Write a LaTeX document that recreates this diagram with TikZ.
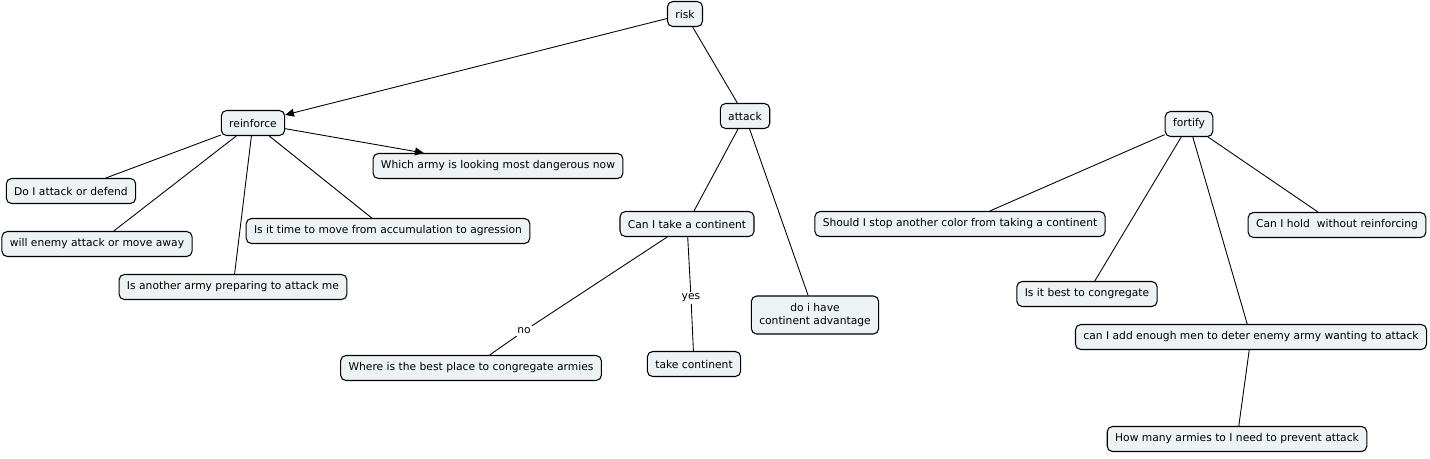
\documentclass[tikz,border=0pt]{standalone}
\usepackage{fontspec}
\setmainfont{DejaVu Sans}
\usetikzlibrary{shapes,arrows.meta,positioning}
\definecolor{conceptfill}{HTML}{EDF2F5}
\tikzstyle{concept} = [rectangle, draw, fill=conceptfill, rounded corners=3pt,
    minimum height=0.5cm, inner xsep=4.5pt, align=center,
    font=\fontsize{6.1}{7.6}\selectfont, line width=0.6pt]
\tikzstyle{linkword} = [fill=white, inner sep=1pt,
    font=\fontsize{6.1}{7.6}\selectfont]
\tikzstyle{link} = [draw, line width=0.5pt]
\tikzstyle{arrowlink} = [draw, line width=0.5pt, -{Triangle[length=5pt,width=4.5pt]}]

\begin{document}
\begin{tikzpicture}[x=0.02cm, y=-0.02cm]
    \useasboundingbox (0,0) rectangle (1430,458);

    \node[concept] (risk) at (685,14) {risk};
    \node[concept] (reinforce) at (253,123) {reinforce};
    \node[concept] (attack) at (745,116) {attack};
    \node[concept] (fortify) at (1189,124) {fortify};

    % reinforce branch
    \node[concept] (dangerous) at (498,166) {Which army is looking most dangerous now};
    \node[concept] (attackDefend) at (71,191) {Do I attack or defend};
    \node[concept] (moveAway) at (97,244) {will enemy attack or move away};
    \node[concept] (agression) at (388,231) {Is it time to move from accumulation to agression};
    \node[concept] (preparing) at (233,287) {Is another army preparing to attack me};

    % attack branch
    \node[concept] (takeCont) at (687,224) {Can I take a continent};
    \node[concept] (bestPlace) at (471,368) {Where is the best place to congregate armies};
    \node[concept] (takeIt) at (694,364) {take continent};
    \node[concept, minimum height=0.76cm] (advantage) at (815,315) {do i have\\continent advantage};
    \node[linkword] (no) at (524,331) {no};
    \node[linkword] (yes) at (691,298) {yes};

    % fortify branch
    \node[concept] (stopColor) at (960,224) {Should I stop another color from taking a continent};
    \node[concept] (hold) at (1337,225) {Can I hold\ \ without reinforcing};
    \node[concept] (congregate) at (1087,294) {Is it best to congregate};
    \node[concept] (enoughMen) at (1251,337) {can I add enough men to deter enemy army wanting to attack};
    \node[concept] (howMany) at (1237,439) {How many armies to I need to prevent attack};

    \path[arrowlink] (risk) -- (reinforce);
    \path[link] (risk) -- (attack);

    \path[arrowlink] (reinforce) -- (dangerous);
    \path[link] (reinforce) -- (attackDefend);
    \path[link] (reinforce) -- (moveAway);
    \path[link] (reinforce) -- (agression);
    \path[link] (reinforce) -- (preparing);

    \path[link] (attack) -- (takeCont);
    \path[link] (attack) -- (advantage);
    \path[link] (takeCont) -- (no) -- (bestPlace);
    \path[link] (takeCont) -- (yes) -- (takeIt);

    \path[link] (fortify) -- (stopColor);
    \path[link] (fortify) -- (congregate);
    \path[link] (fortify) -- (enoughMen);
    \path[link] (fortify) -- (hold);
    \path[link] (enoughMen) -- (howMany);
\end{tikzpicture}
\end{document}
